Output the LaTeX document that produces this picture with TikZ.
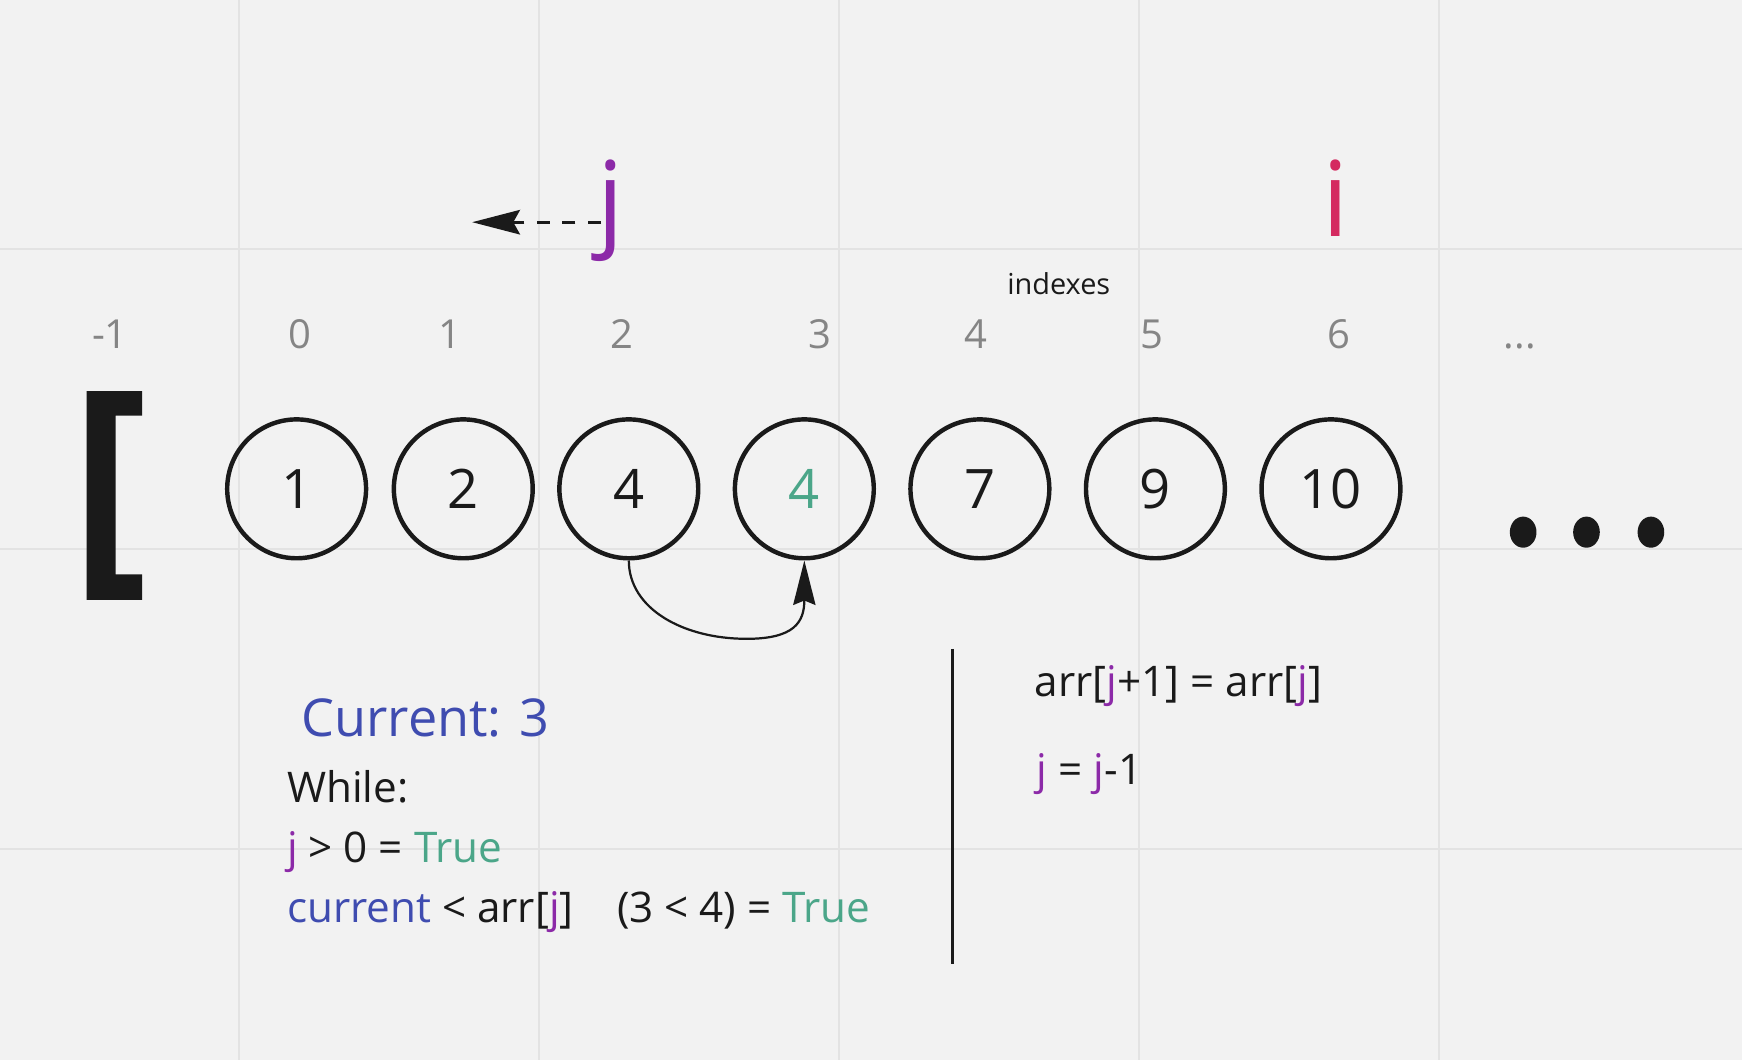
\documentclass[tikz,border=0pt]{standalone}
\usepackage{fontspec}
\setmainfont{Open Sans}
\usetikzlibrary{arrows.meta}
\definecolor{bg}{HTML}{F2F2F2}
\definecolor{gridc}{HTML}{E3E3E3}
\definecolor{ink}{HTML}{1A1A1A}
\definecolor{pur}{HTML}{8C2AA8}
\definecolor{crim}{HTML}{D42A60}
\definecolor{grn}{HTML}{4BA689}
\definecolor{blu}{HTML}{3F4CB0}
\definecolor{idx}{HTML}{858585}
\newcommand\fsz[1]{\fontsize{#1}{#1}\selectfont}
\begin{document}
\begin{tikzpicture}[x=0.5pt,y=-0.5pt,
  cnode/.style={circle,draw=ink,line width=2pt,minimum size=62.5pt,inner sep=0pt,text=ink,font=\fsz{24.5pt}},
  idxlab/.style={anchor=base,inner sep=0pt,text=idx,font=\fsz{18pt}},
  ptr/.style={anchor=base,inner sep=0pt,font=\fsz{47pt}},
  body/.style={anchor=base west,inner sep=0pt,text=ink,font=\fsz{19pt}},
  dots/.style={fill=ink}]
\fill[bg] (0,0) rectangle (1568,954);
\useasboundingbox (0,0) rectangle (1568,954);
% grid
\foreach \gx in {215,485,755,1025,1295} \draw[gridc,line width=0.75pt] (\gx,0) -- (\gx,954);
\foreach \gy in {224,494,764} \draw[gridc,line width=0.75pt] (0,\gy) -- (1568,\gy);
% bracket
\fill[ink] (78,352) -- (128,352) -- (128,374) -- (104,374) -- (104,517) -- (128,517) -- (128,540) -- (78,540) -- cycle;
% circles
\node[cnode] (c1) at (267,440) {1};
\node[cnode] (c2) at (417,440) {2};
\node[cnode] (c3) at (566,440) {4};
\node[cnode,text=grn] (c4) at (724,440) {4};
\node[cnode] (c5) at (882,440) {7};
\node[cnode] (c6) at (1040,440) {9};
\node[cnode] (c7) at (1198,440) {10};
% big dots
\fill[dots] (1371,479) circle[x radius=6pt,y radius=7pt];
\fill[dots] (1428,479) circle[x radius=6pt,y radius=7pt];
\fill[dots] (1486,479) circle[x radius=6pt,y radius=7pt];
% index labels
\node[idxlab] (im1) at (99,314) {-1};
\node[idxlab] (i0) at (270,314) {0};
\node[idxlab] (i1) at (405,314) {1};
\node[idxlab] (i2) at (560,314) {2};
\node[idxlab] (i3) at (738,314) {3};
\node[idxlab] (i4) at (878,314) {4};
\node[idxlab] (i5) at (1037,314) {5};
\node[idxlab] (i6) at (1205,314) {6};
\node[idxlab] (idots) at (1368,314) {...};
\node[anchor=base,inner sep=0pt,text=ink,font=\fsz{13pt}] (indexes) at (953,265) {indexes};
% pointers
\node[ptr,text=pur] (jlab) at (550,213) {j};
\node[ptr,text=crim] (ilab) at (1202,213) {i};
\coordinate (jstart) at (541,200);
\coordinate (jend) at (425,200);
\draw[ink,line width=1.5pt,dash pattern=on 6pt off 5.5pt,-{Stealth[length=21.5pt,width=11pt,inset=3pt]}] (jstart) -- (jend);
% curved arrow
\draw[ink,line width=1pt,-{Stealth[length=20pt,width=10pt,inset=2pt]}] (c3.south) .. controls (566,548) and (615,575) .. (672,575) .. controls (715,575) and (724,560) .. (c4.south);
% left text
\node[anchor=base west,inner sep=0pt,text=blu,font=\fsz{23.5pt}] (cur) at (271,663) {Current: 3};
\node[body] (while) at (258,722) {While:};
\node[body] (cond1) at (258,776) {{\color{pur}j} > 0 = {\color{grn}True}};
\node[body] (cond2) at (258,830) {{\color{blu}current} < arr[{\color{pur}j}]};
\node[body] (cond2b) at (555,830) {(3 < 4) = {\color{grn}True}};
% divider
\coordinate (vtop) at (857,584);
\coordinate (vbot) at (857,868);
\draw[ink,line width=1.25pt] (vtop) -- (vbot);
% right text
\node[body] (assign) at (931,627) {arr[{\color{pur}j}+1] = arr[{\color{pur}j}]};
\node[body] (dec) at (933,706) {{\color{pur}j} = {\color{pur}j}-1};
\end{tikzpicture}
\end{document}
